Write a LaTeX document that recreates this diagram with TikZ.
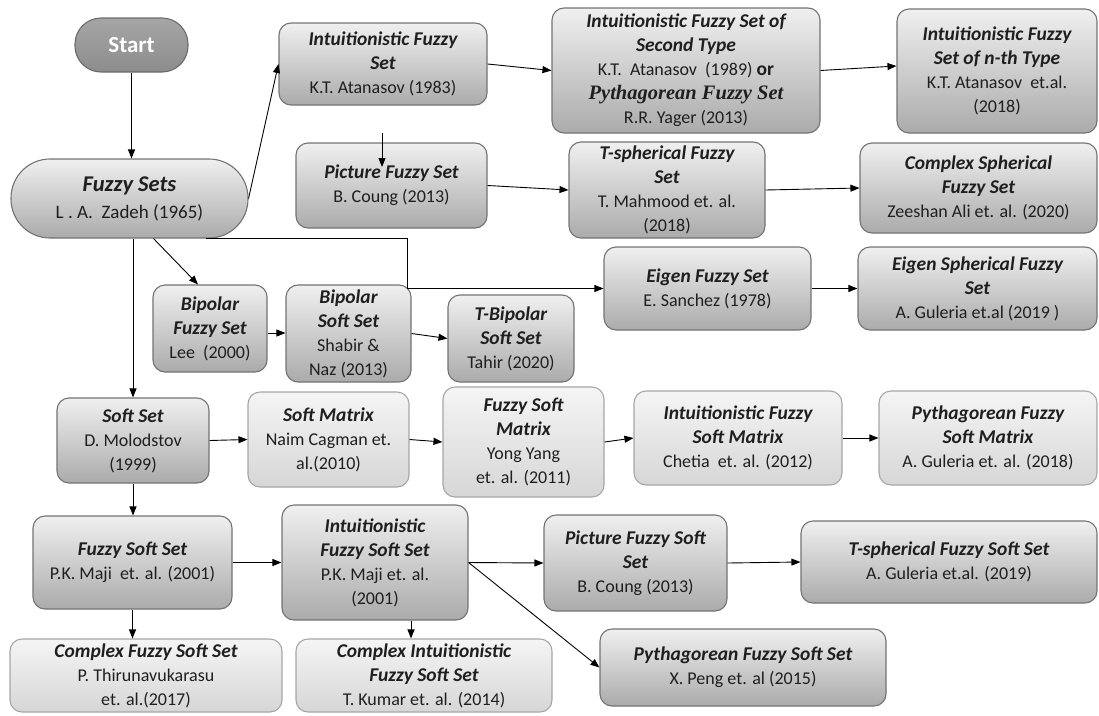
\documentclass[tikz,border=0pt]{standalone}
\usepackage{fontspec}
\setmainfont{Carlito}
\newfontfamily\pyserif{Liberation Serif}
\usetikzlibrary{arrows.meta,calc}
\newcommand\ti[1]{{\fontsize{19.5}{24}\selectfont\bfseries\itshape #1}}
\begin{document}
\begin{tikzpicture}[x=1pt,y=1pt,
 base/.style={rounded corners=12pt, line width=1.1pt, align=center, inner sep=1pt, font=\fontsize{18}{24}\selectfont, text=black!88},
 darkbox/.style={base, draw=black!55, top color=black!6, bottom color=black!33},
 lightbox/.style={base, draw=black!35, top color=black!4, bottom color=black!16},
 pill/.style={darkbox, rounded corners=39pt},
 startbox/.style={base, rounded corners=26pt, draw=black!58, top color=black!35, bottom color=black!45, text=white, font=\fontsize{23}{26}\selectfont\bfseries},
 sz/.style 2 args={minimum width=#1pt, minimum height=#2pt},
 arr/.style={-{Triangle[length=9pt,width=7pt]}, line width=0.9pt, black},
 ln/.style={line width=0.9pt, black}]
\useasboundingbox (0,0) rectangle (1099,-715);

\node[startbox, sz={113}{54}] (start) at (131.5,-45) {Start};
\node[pill, sz={237}{79}, font=\fontsize{19}{27}\selectfont] (fuzzy) at (129.5,-198.5) {{\fontsize{22.5}{27}\selectfont\bfseries\itshape Fuzzy Sets}\\ L . A.~~Zadeh (1965)};
\node[darkbox, sz={208}{82}] (ifs) at (383,-64) {\ti{Intuitionistic Fuzzy}\\ \ti{Set}\\ K.T. Atanasov (1983)};
\node[darkbox, sz={268}{125}] (ifs2) at (686,-70.5) {\ti{Intuitionistic Fuzzy Set of}\\ \ti{Second Type}\\ K.T.~~Atanasov~~(1989) {\fontsize{19.5}{24}\selectfont\bfseries or}\\ {\pyserif\bfseries\itshape\fontsize{20.5}{24}\selectfont Pythagorean Fuzzy Set}\\ R.R. Yager (2013)};
\node[darkbox, sz={200}{124}] (nth) at (997,-71) {\ti{Intuitionistic Fuzzy}\\ \ti{Set of n-th Type}\\ K.T. Atanasov~~et.al.\\ (2018)};
\node[darkbox, sz={191}{85}] (pic) at (391.5,-185.5) {\ti{Picture Fuzzy Set}\\ B. Coung (2013)};
\node[darkbox, sz={196}{96}] (tsph) at (667,-190) {\ti{T-spherical Fuzzy}\\ \ti{Set}\\ T. Mahmood et. al.\\ (2018)};
\node[darkbox, sz={237}{90}] (cs) at (978.5,-188) {\ti{Complex Spherical}\\ \ti{Fuzzy Set}\\ Zeeshan Ali et. al. (2020)};
\node[darkbox, sz={114}{87}] (bfs) at (210,-328.5) {\ti{Bipolar}\\ \ti{Fuzzy Set}\\ Lee~~(2000)};
\node[darkbox, sz={125}{97}] (bss) at (348.5,-333.5) {\ti{Bipolar}\\ \ti{Soft Set}\\ Shabir \&\\ Naz (2013)};
\node[darkbox, sz={126}{87}] (tbss) at (511,-338.5) {\ti{T-Bipolar}\\ \ti{Soft Set}\\ Tahir (2020)};
\node[darkbox, sz={207}{83}] (eigen) at (707.5,-288.5) {\ti{Eigen Fuzzy Set}\\ E. Sanchez (1978)};
\node[darkbox, sz={239}{83}] (es) at (977.5,-288.5) {\ti{Eigen Spherical Fuzzy}\\ \ti{Set}\\ A. Guleria et.al (2019 )};
\node[darkbox, sz={152}{85}] (ss) at (133,-440.5) {\ti{Soft Set}\\ D. Molodstov\\ (1999)};
\node[lightbox, sz={161}{95}] (sm) at (328.5,-439.5) {\ti{Soft Matrix}\\ Naim Cagman et.\\ al.(2010)};
\node[lightbox, sz={161}{110}] (fsm) at (523.5,-442) {\ti{Fuzzy Soft}\\ \ti{Matrix}\\ Yong Yang\\ et. al. (2011)};
\node[lightbox, sz={208}{94}] (ifsm) at (738,-438) {\ti{Intuitionistic Fuzzy}\\ \ti{Soft Matrix}\\ Chetia~~et. al. (2012)};
\node[lightbox, sz={218}{94}] (pfsm) at (988,-438) {\ti{Pythagorean Fuzzy}\\ \ti{Soft Matrix}\\ A. Guleria et. al. (2018)};
\node[darkbox, sz={199}{93}] (fss) at (132.5,-562.5) {\ti{Fuzzy Soft Set}\\ P.K. Maji~~et. al. (2001)};
\node[darkbox, sz={186}{115}] (ifss) at (375,-562.5) {\ti{Intuitionistic}\\ \ti{Fuzzy Soft Set}\\ P.K. Maji et. al.\\ (2001)};
\node[darkbox, sz={183}{96}] (picfss) at (635.5,-563) {\ti{Picture Fuzzy Soft}\\ \ti{Set}\\ B. Coung (2013)};
\node[darkbox, sz={296}{82}] (tsfss) at (949,-562) {\ti{T-spherical Fuzzy Soft Set}\\ A. Guleria et.al. (2019)};
\node[lightbox, sz={272}{73}] (cfss) at (146,-675.5) {\ti{Complex Fuzzy Soft Set}\\ P. Thirunavukarasu\\ et. al.(2017)};
\node[lightbox, sz={256}{73}] (cifss) at (424,-675.5) {\ti{Complex Intuitionistic}\\ \ti{Fuzzy Soft Set}\\ T. Kumar et. al. (2014)};
\node[darkbox, sz={286}{77}] (pyfss) at (743,-667.5) {\ti{Pythagorean Fuzzy Soft Set}\\ X. Peng et. al (2015)};

% connectors
\draw[arr] (start.south) -- (start.south |- fuzzy.north);
\draw[arr] (fuzzy.east) -- (ifs.west);
\draw[arr] (ifs.east) -- (ifs2.west);
\coordinate (nthIn) at ($(nth.west)+(0,5)$);
\draw[arr] (ifs2.east) -- (nthIn);
\coordinate (dA) at (382,-133);
\coordinate (dB) at (382,-167);
\draw[arr] (dA) -- (dB);
\draw[arr] (pic.east) -- (tsph.west);
\draw[arr] (tsph.east) -- (cs.west);
\coordinate (fzA) at ($(fuzzy.south)+(24,0)$);
\coordinate (bfsIn) at ($(bfs.north)+(-12,0)$);
\draw[arr] (fzA) -- (bfsIn);
\draw[arr] (fuzzy.south -| ss.north) -- (ss.north);
\coordinate (fzB) at ($(fuzzy.south)+(76,0)$);
\coordinate (bend) at (407,-288.5);
\draw[arr] (fzB) -| (bend) -- (eigen.west);
\draw[arr] (eigen.east) -- (es.west);
\coordinate (bfsOut) at (bfs.east |- 0,-333);
\coordinate (bssIn) at (bss.west |- 0,-333);
\draw[arr] (bfsOut) -- (bssIn);
\draw[arr] (bss.east) -- (tbss.west);
\draw[arr] (ss.east) -- (sm.west);
\draw[arr] (sm.east) -- (fsm.west);
\draw[arr] (fsm.east) -- (ifsm.west);
\draw[arr] (ifsm.east) -- (pfsm.west);
\draw[arr] (ss.south) -- (ss.south |- fss.north);
\draw[arr] (fss.east) -- (ifss.west);
\draw[arr] (fss.south) -- (fss.south |- cfss.north);
\coordinate (ifssOut) at ($(ifss.south)+(36,0)$);
\draw[arr] (ifssOut) -- (ifssOut |- cifss.north);
\draw[arr] (ifss.east) -- (picfss.west);
\draw[arr] (ifss.east) -- (pyfss.west);
\draw[arr] (picfss.east) -- (tsfss.west);
\end{tikzpicture}
\end{document}
